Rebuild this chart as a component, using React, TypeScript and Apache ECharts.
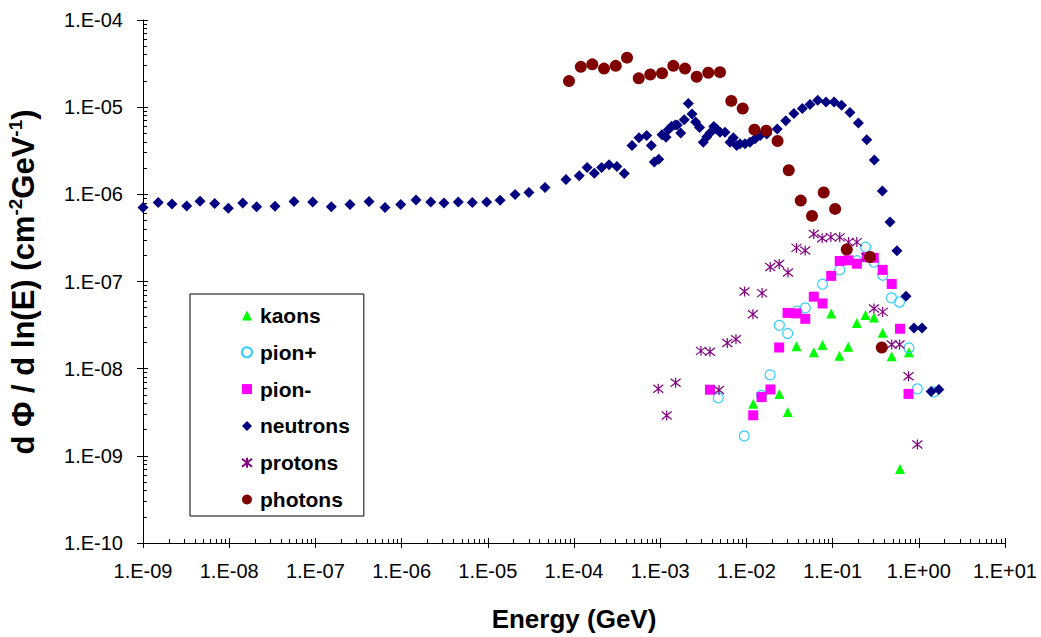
import React, { useEffect, useRef } from 'react';
import * as echarts from 'echarts';

// [energy (GeV), dPhi/dln(E)]
const kaons: [number, number][] = [
  [1.2e-2, 3.97e-9], [2.41e-2, 5.11e-9], [3.02e-2, 3.19e-9], [3.81e-2, 1.81e-8],
  [6.05e-2, 1.54e-8], [7.64e-2, 1.87e-8], [9.64e-2, 4.3e-8], [1.2e-1, 1.41e-8],
  [1.52e-1, 1.79e-8], [1.91e-1, 3.35e-8], [2.41e-1, 4.13e-8], [3.02e-1, 3.87e-8],
  [3.81e-1, 2.58e-8], [4.85e-1, 1.39e-8], [6.05e-1, 7.06e-10], [7.69e-1, 1.54e-8],
];

const pionPlus: [number, number][] = [
  [4.72e-3, 4.62e-9], [9.44e-3, 1.69e-9], [1.5e-2, 4.93e-9], [1.88e-2, 8.48e-9],
  [2.41e-2, 3.14e-8], [3.01e-2, 2.53e-8], [3.86e-2, 4.58e-8], [4.82e-2, 4.98e-8],
  [7.64e-2, 9.31e-8], [1.21e-1, 1.36e-7], [1.92e-1, 1.73e-7], [2.41e-1, 2.47e-7],
  [3.02e-1, 1.67e-7], [3.82e-1, 1.18e-7], [4.82e-1, 6.49e-8], [5.97e-1, 5.81e-8],
  [7.69e-1, 1.73e-8], [9.62e-1, 5.87e-9], [1.5, 5.41e-9],
];

const pionMinus: [number, number][] = [
  [3.78e-3, 5.73e-9], [1.2e-2, 2.92e-9], [1.5e-2, 4.72e-9], [1.9e-2, 5.77e-9],
  [2.4e-2, 1.75e-8], [3.0e-2, 4.36e-8], [3.79e-2, 4.31e-8], [4.82e-2, 3.73e-8],
  [6.05e-2, 6.7e-8], [7.64e-2, 5.6e-8], [9.64e-2, 1.16e-7], [1.21e-1, 1.72e-7],
  [1.52e-1, 1.75e-7], [1.91e-1, 1.6e-7], [2.49e-1, 1.9e-7], [3.0e-1, 1.87e-7],
  [3.81e-1, 1.36e-7], [4.85e-1, 9.37e-8], [6.05e-1, 2.87e-8], [7.6e-1, 5.13e-9],
];

const neutrons: [number, number][] = [
  [1.0e-9, 7.06e-7], [1.5e-9, 8.05e-7], [2.17e-9, 7.76e-7], [3.21e-9, 7.36e-7],
  [4.59e-9, 8.32e-7], [6.79e-9, 7.83e-7], [9.77e-9, 6.93e-7], [1.435e-8, 7.96e-7],
  [2.08e-8, 7.18e-7], [3.4e-8, 7.31e-7], [5.65e-8, 8.26e-7], [9.3e-8, 8.17e-7],
  [1.53e-7, 7.18e-7], [2.52e-7, 7.64e-7], [4.19e-7, 8.26e-7], [6.42e-7, 7.06e-7],
  [9.77e-7, 7.64e-7], [1.47e-6, 8.61e-7], [2.18e-6, 8.17e-7], [3.1e-6, 7.96e-7],
  [4.55e-6, 8.17e-7], [6.61e-6, 8.05e-7], [9.7e-6, 8.17e-7], [1.39e-5, 8.55e-7],
  [2.07e-5, 9.93e-7], [3.0e-5, 1.05e-6], [4.61e-5, 1.2e-6], [8.07e-5, 1.48e-6],
  [1.15e-4, 1.63e-6], [1.42e-4, 2.03e-6], [1.72e-4, 1.75e-6], [2.09e-4, 2.03e-6],
  [2.55e-4, 2.19e-6], [3.15e-4, 2.08e-6], [3.83e-4, 1.73e-6], [4.71e-4, 3.63e-6],
  [5.68e-4, 4.45e-6], [6.97e-4, 4.72e-6], [7.89e-4, 3.63e-6], [8.55e-4, 2.35e-6],
  [9.62e-4, 2.52e-6], [1.05e-3, 4.84e-6], [1.17e-3, 4.53e-6], [1.24e-3, 5.52e-6],
  [1.36e-3, 6.04e-6], [1.49e-3, 6.24e-6], [1.58e-3, 6.24e-6], [1.73e-3, 5.07e-6],
  [1.9e-3, 7.18e-6], [2.12e-3, 1.1e-5], [2.34e-3, 8.33e-6], [2.57e-3, 6.76e-6],
  [2.86e-3, 5.85e-6], [3.16e-3, 3.97e-6], [3.46e-3, 4.56e-6], [3.78e-3, 5.07e-6],
  [4.18e-3, 6.0e-6], [4.5e-3, 5.62e-6], [4.94e-3, 5.16e-6], [5.65e-3, 5.16e-6],
  [6.46e-3, 3.97e-6], [7.05e-3, 4.45e-6], [7.72e-3, 3.63e-6], [8.43e-3, 3.8e-6],
  [9.64e-3, 3.8e-6], [1.1e-2, 3.97e-6], [1.26e-2, 4.33e-6], [1.44e-2, 4.72e-6],
  [1.72e-2, 4.93e-6], [2.28e-2, 5.62e-6], [2.86e-2, 6.98e-6], [3.56e-2, 8.48e-6],
  [4.45e-2, 9.66e-6], [5.47e-2, 1.07e-5], [6.72e-2, 1.2e-5], [8.38e-2, 1.15e-5],
  [1.04e-1, 1.15e-5], [1.27e-1, 1.05e-5], [1.59e-1, 8.71e-6], [1.99e-1, 6.58e-6],
  [2.49e-1, 4.22e-6], [3.05e-1, 2.48e-6], [3.78e-1, 1.09e-6], [4.63e-1, 4.81e-7],
  [5.58e-1, 2.25e-7], [7.11e-1, 6.76e-8], [8.79e-1, 2.92e-8], [1.09, 2.92e-8],
  [1.39, 5.48e-9], [1.71, 5.77e-9],
];

const protons: [number, number][] = [
  [9.5e-4, 5.87e-9], [1.19e-3, 2.9e-9], [1.51e-3, 6.9e-9], [2.97e-3, 1.6e-8],
  [3.78e-3, 1.56e-8], [4.81e-3, 5.7e-9], [6.0e-3, 1.97e-8], [7.57e-3, 2.17e-8],
  [9.51e-3, 7.66e-8], [1.19e-2, 4.22e-8], [1.52e-2, 7.36e-8], [1.89e-2, 1.47e-7],
  [2.4e-2, 1.59e-7], [3.04e-2, 1.27e-7], [3.81e-2, 2.43e-7], [4.81e-2, 2.27e-7],
  [6.05e-2, 3.51e-7], [7.57e-2, 3.14e-7], [9.55e-2, 3.23e-7], [1.21e-1, 3.21e-7],
  [1.53e-1, 2.83e-7], [1.91e-1, 2.83e-7], [2.46e-1, 1.9e-7], [3.02e-1, 4.9e-8],
  [3.81e-1, 4.48e-8], [4.85e-1, 1.89e-8], [5.98e-1, 1.89e-8], [7.6e-1, 8.17e-9],
  [9.62e-1, 1.35e-9],
];

const photons: [number, number][] = [
  [8.75e-5, 1.99e-5], [1.2e-4, 2.9e-5], [1.63e-4, 3.1e-5], [2.23e-4, 2.77e-5],
  [3.05e-4, 2.98e-5], [4.12e-4, 3.7e-5], [5.64e-4, 2.14e-5], [7.67e-4, 2.37e-5],
  [1.05e-3, 2.45e-5], [1.42e-3, 2.98e-5], [1.94e-3, 2.77e-5], [2.65e-3, 2.23e-5],
  [3.61e-3, 2.48e-5], [4.94e-3, 2.52e-5], [6.68e-3, 1.18e-5], [9.06e-3, 9.66e-6],
  [1.24e-2, 5.52e-6], [1.7e-2, 5.38e-6], [2.3e-2, 4.09e-6], [3.1e-2, 1.89e-6],
  [4.27e-2, 8.48e-7], [5.77e-2, 5.66e-7], [7.89e-2, 1.05e-6], [1.07e-1, 6.81e-7],
  [1.46e-1, 2.33e-7], [2.72e-1, 1.91e-7], [3.72e-1, 1.75e-8],
];

const FONT = "'Liberation Sans', Arial, sans-serif";

function sciLabel(v: number): string {
  const e = Math.round(Math.log10(v));
  return '1.E' + (e < 0 ? '-' : '+') + String(Math.abs(e)).padStart(2, '0');
}

const ASTERISK = 'path://M10 0L10 20M0 2L20 18M0 18L20 2';

export default function App() {
  const ref = useRef<HTMLDivElement>(null);
  useEffect(() => {
    const chart = echarts.init(ref.current!, null, { renderer: 'svg' });
    const baseAxis = {
      type: 'log' as const,
      logBase: 10,
      axisLine: { show: true, lineStyle: { color: '#000', width: 1 } },
      splitLine: { show: false },
    };
    chart.setOption({
      animation: false,
      backgroundColor: '#fff',
      grid: { left: 143, top: 20, right: 36, bottom: 89, containLabel: false },
      xAxis: [
        {
          ...baseAxis,
          min: 1e-9,
          max: 10,
          interval: 1,
          splitNumber: 10,
          axisTick: { show: true, inside: true, length: 5, lineStyle: { color: '#000' } },
          minorTick: { show: true, splitNumber: 9, length: 4, lineStyle: { color: '#000' } },
          axisLabel: { formatter: sciLabel, fontFamily: FONT, fontSize: 20, color: '#000', margin: 18 },
          name: 'Energy (GeV)',
          nameLocation: 'middle',
          nameGap: 63,
          nameTextStyle: { fontFamily: FONT, fontSize: 26, fontWeight: 'bold', color: '#000' },
        },
        {
          ...baseAxis,
          min: 1e-9,
          max: 10,
          interval: 1,
          splitNumber: 10,
          position: 'bottom',
          axisLine: { show: false },
          axisTick: { show: true, inside: false, length: 5, lineStyle: { color: '#000' } },
          axisLabel: { show: false },
        },
      ],
      yAxis: [
        {
          ...baseAxis,
          min: 1e-10,
          max: 1e-4,
          interval: 1,
          splitNumber: 6,
          axisTick: { show: true, inside: true, length: 5, lineStyle: { color: '#000' } },
          minorTick: { show: true, splitNumber: 9, length: 4, lineStyle: { color: '#000' } },
          axisLabel: { formatter: sciLabel, fontFamily: FONT, fontSize: 20, color: '#000', margin: 20 },
        },
        {
          ...baseAxis,
          min: 1e-10,
          max: 1e-4,
          interval: 1,
          splitNumber: 6,
          position: 'left',
          axisLine: { show: false },
          axisTick: { show: true, inside: false, length: 6, lineStyle: { color: '#000' } },
          axisLabel: { show: false },
        },
      ],
      legend: {
        orient: 'vertical',
        left: 190,
        top: 294,
        padding: [11, 14, 6, 51],
        itemGap: 15.8,
        itemWidth: 10,
        itemHeight: 10,
        backgroundColor: '#fff',
        borderColor: '#000',
        borderWidth: 1,
        textStyle: { fontFamily: FONT, fontSize: 21, fontWeight: 'bold', color: '#000', lineHeight: 20, padding: [0, 0, 0, 3] },
        data: ['kaons', 'pion+', 'pion-', 'neutrons', 'protons', 'photons'],
      },
      graphic: [
        {
          type: 'text',
          x: 23,
          y: 282,
          rotation: Math.PI / 2,
          style: {
            text: '{b|d Φ / d ln(E) (cm}{s|-2}{b|GeV}{s|-1}{b|)}',
            align: 'center',
            verticalAlign: 'middle',
            fill: '#000',
            rich: {
              b: { fontFamily: FONT, fontSize: 31, fontWeight: 'bold', fill: '#000', lineHeight: 34 },
              s: { fontFamily: FONT, fontSize: 19, fontWeight: 'bold', fill: '#000', lineHeight: 34, verticalAlign: 'top' },
            },
          },
        },
      ],
      series: [
        {
          name: 'kaons', type: 'scatter', data: kaons, symbol: 'triangle', symbolSize: 10,
          itemStyle: { color: '#00FF00', opacity: 1 },
        },
        {
          name: 'pion+', type: 'scatter', data: pionPlus, symbol: 'circle', symbolSize: 10,
          itemStyle: { color: 'rgba(255,255,255,0)', borderColor: '#33CCFF', borderWidth: 1.2, opacity: 1 },
        },
        {
          name: 'pion-', type: 'scatter', data: pionMinus, symbol: 'rect', symbolSize: 10,
          itemStyle: { color: '#FF00FF', opacity: 1 },
        },
        {
          name: 'neutrons', type: 'scatter', data: neutrons, symbol: 'diamond', symbolSize: 11,
          itemStyle: { color: '#000080', opacity: 1 },
        },
        {
          name: 'protons', type: 'scatter', data: protons, symbol: ASTERISK, symbolSize: 10,
          itemStyle: { color: '#800080', borderColor: '#800080', borderWidth: 1.2, opacity: 1 },
        },
        {
          name: 'photons', type: 'scatter', data: photons, symbol: 'circle', symbolSize: 12,
          itemStyle: { color: '#800000', opacity: 1 },
        },
      ],
    });
    return () => chart.dispose();
  }, []);
  return (
    <div
      ref={ref}
      style={{ position: 'fixed', left: 0, top: 0, width: 1041, height: 637, background: '#fff' }}
    />
  );
}
